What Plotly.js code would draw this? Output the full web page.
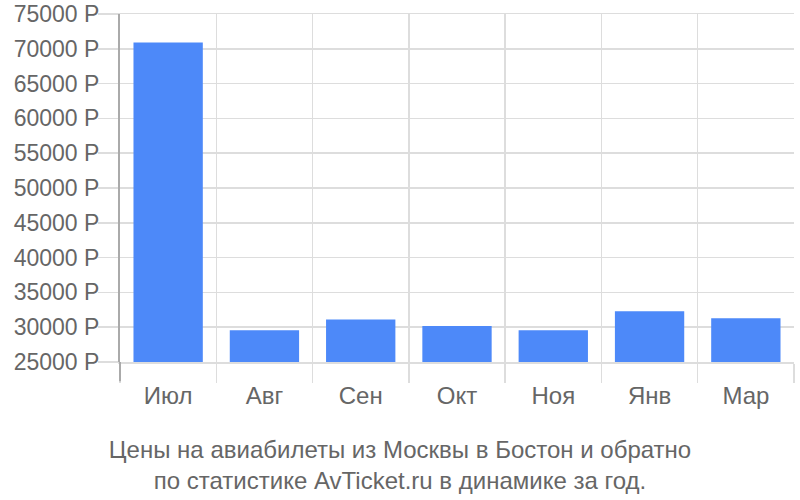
<!DOCTYPE html>
<html>
<head>
<meta charset="utf-8">
<script src="https://cdn.plot.ly/plotly-3.0.1.min.js"></script>
<style>
  html, body { margin: 0; padding: 0; background: #fff; }
  #chart { width: 800px; height: 500px; }
</style>
</head>
<body>
<div id="chart"></div>
<script>
// months and average ticket price, rubles
var months = ['Июл', 'Авг', 'Сен', 'Окт', 'Ноя', 'Янв', 'Мар'];
var prices = [70900, 29550, 31100, 30180, 29550, 32300, 31300];
var priceTicks = [25000, 30000, 35000, 40000, 45000, 50000, 55000, 60000, 65000, 70000, 75000];
var priceLabels = priceTicks.map(function (v) { return v + ' Р'; });

var gridColor = '#dddddd';
var textColor = '#666666';

var data = [{
    type: 'bar',
    x: months,
    y: prices,
    marker: { color: '#4d89f9' },
    hoverinfo: 'skip'
}];

var layout = {
    width: 800,
    height: 500,
    margin: { l: 120, r: 6, t: 14, b: 138 },
    paper_bgcolor: '#fff',
    plot_bgcolor: '#fff',
    font: { family: 'Liberation Sans, Arial, sans-serif', size: 22, color: textColor },
    showlegend: false,
    bargap: 0.28,
    title: {
        text: 'Цены на авиабилеты из Москвы в Бостон и обратно<br>по статистике AvTicket.ru в динамике за год.',
        font: { size: 24, color: textColor },
        x: 0.5,
        xref: 'container',
        xanchor: 'center',
        y: 0.085,
        yref: 'container',
        yanchor: 'middle'
    },
    xaxis: {
        type: 'category',
        tickson: 'boundaries',
        ticks: 'outside',
        ticklen: 19,
        tickwidth: 1.5,
        tickcolor: gridColor,
        tickfont: { size: 24 },
        ticklabelstandoff: 12,
        showgrid: true,
        gridcolor: gridColor,
        gridwidth: 1.5,
        showline: true,
        mirror: true,
        linecolor: gridColor,
        linewidth: 1.5,
        zeroline: false,
        fixedrange: true
    },
    yaxis: {
        range: [25000, 75000],
        tickvals: priceTicks,
        ticktext: priceLabels,
        ticks: 'outside',
        ticklen: 20,
        tickwidth: 1.5,
        tickcolor: gridColor,
        tickfont: { size: 23 },
        ticklabelstandoff: -6,
        showgrid: true,
        gridcolor: gridColor,
        gridwidth: 1.5,
        showline: true,
        linecolor: '#aaaaaa',
        linewidth: 2,
        zeroline: false,
        fixedrange: true
    },
    shapes: [{
        // left axis line continues down past the last gridline
        type: 'line',
        xref: 'paper', yref: 'paper',
        x0: 0, x1: 0, y0: 0, y1: -0.055,
        line: { color: '#aaaaaa', width: 2 },
        layer: 'above'
    }]
};

Plotly.newPlot('chart', data, layout, { displayModeBar: false, staticPlot: true });
</script>
</body>
</html>
